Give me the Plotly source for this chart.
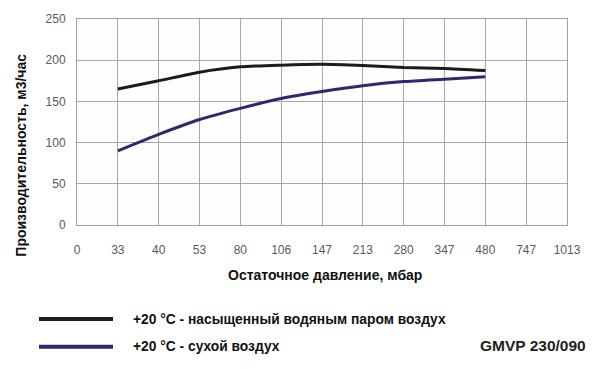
import plotly.graph_objects as go

categories = ["0", "33", "40", "53", "80", "106", "147", "213", "280", "347", "480", "747", "1013"]
x_used = ["33", "40", "53", "80", "106", "147", "213", "280", "347", "480"]
saturated = [165, 175, 185.5, 192, 194, 195, 193.5, 191, 190, 187.5]
dry = [90, 110, 128, 141.5, 153.5, 162, 169, 174, 177, 180]
y_ticks = [0, 50, 100, 150, 200, 250]

BLACK = "#1c1c1c"
BLUE = "#2e2870"
FONT = "Liberation Sans, Arial, sans-serif"

fig = go.Figure()
fig.add_trace(go.Scatter(x=x_used, y=saturated, mode="lines",
                         line=dict(color=BLACK, width=3, shape="spline", smoothing=0.6),
                         showlegend=False, hoverinfo="skip"))
fig.add_trace(go.Scatter(x=x_used, y=dry, mode="lines",
                         line=dict(color=BLUE, width=3, shape="spline", smoothing=0.6),
                         showlegend=False, hoverinfo="skip"))

fig.update_layout(
    width=600, height=369,
    margin=dict(l=77, r=33, t=17, b=144),
    paper_bgcolor="white", plot_bgcolor="#fdfdfd",
    font=dict(family=FONT, color="#555555", size=12),
    xaxis=dict(type="category", categoryorder="array", categoryarray=categories,
               range=[0, 12], tickvals=categories, ticktext=categories,
               showgrid=True, gridcolor="#a8a8a8", gridwidth=1,
               showline=True, linecolor="#a0a0a0", mirror=True,
               ticks="outside", ticklen=14, tickcolor="rgba(0,0,0,0)",
               zeroline=False, tickfont=dict(size=12, color="#5a5a5a")),
    yaxis=dict(range=[0, 250], tickvals=y_ticks,
               showgrid=True, gridcolor="#a8a8a8", gridwidth=1,
               showline=True, linecolor="#a0a0a0", mirror=True,
               ticks="outside", ticklen=8, tickcolor="rgba(0,0,0,0)",
               zeroline=False, tickfont=dict(size=12, color="#5a5a5a")),
)


def px_x(p):
    return (p - 77) / 490


def px_y(p):
    return (225 - p) / 208


# axis titles
fig.add_annotation(text="<b>Производительность, м3/час</b>", xref="paper", yref="paper",
                   x=px_x(21), y=px_y(155), textangle=-90,
                   showarrow=False, font=dict(size=14, color="#111111", family=FONT),
                   xanchor="center", yanchor="middle")
fig.add_annotation(text="<b>Остаточное давление, мбар</b>", xref="paper", yref="paper",
                   x=px_x(325), y=px_y(275), showarrow=False,
                   font=dict(size=14, color="#111111", family=FONT),
                   xanchor="center", yanchor="middle")

# legend (manual)
for ypix, col, label in [(320, BLACK, "<b>+20 °C - насыщенный водяным паром воздух</b>"),
                         (348, BLUE, "<b>+20 °C - сухой воздух</b>")]:
    fig.add_shape(type="line", xref="paper", yref="paper",
                  x0=px_x(39), x1=px_x(113), y0=px_y(ypix), y1=px_y(ypix),
                  line=dict(color=col, width=4))
    fig.add_annotation(text=label, xref="paper", yref="paper",
                       x=px_x(131), y=px_y(ypix), xanchor="left", yanchor="middle",
                       showarrow=False, font=dict(size=13.8, color="#111111", family=FONT))

fig.add_annotation(text="<b>GMVP 230/090</b>", xref="paper", yref="paper",
                   x=px_x(588), y=px_y(347), xanchor="right", yanchor="middle",
                   showarrow=False, font=dict(size=15.5, color="#222222", family=FONT))

fig.write_html("out.html", config={"displayModeBar": False, "staticPlot": True},
               post_script="document.body.style.margin='0';")
